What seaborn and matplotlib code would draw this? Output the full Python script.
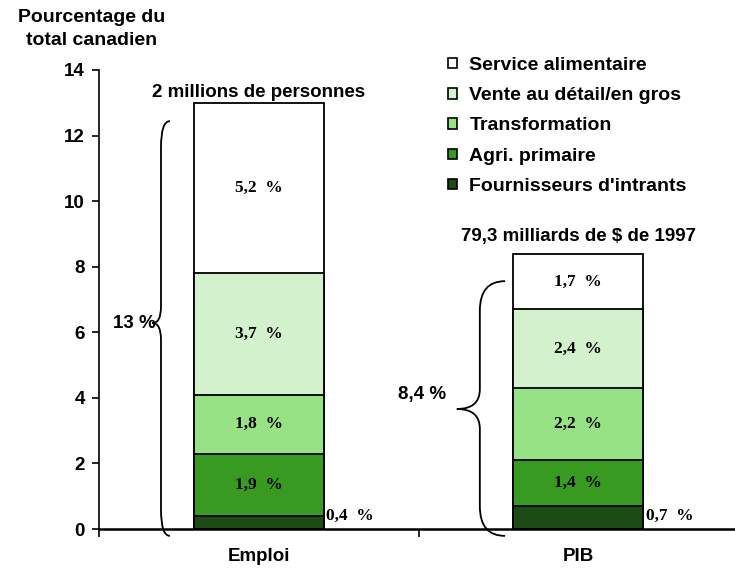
import numpy as np
import pandas as pd
import seaborn as sns
import matplotlib.pyplot as plt
from matplotlib.path import Path
from matplotlib.patches import PathPatch, Patch

categories = ["Emploi", "PIB"]
segments = ["Fournisseurs d'intrants", "Agri. primaire", "Transformation",
            "Vente au détail/en gros", "Service alimentaire"]
emploi = [0.4, 1.9, 1.8, 3.7, 5.2]
pib = [0.7, 1.4, 2.2, 2.4, 1.7]
totals = ["13 %", "8,4 %"]
bar_titles = ["2 millions de personnes", "79,3 milliards de $ de 1997"]
colors = ["#1D4B14", "#399A22", "#98E286", "#D3F1CC", "#FFFFFF"]

rows = []
for cat, vals in zip(categories, [emploi, pib]):
    for seg, v in zip(segments, vals):
        rows.append({"categorie": cat, "segment": seg, "valeur": v})
df = pd.DataFrame(rows)
df["cumul"] = df.groupby("categorie")["valeur"].cumsum()

sns.set_style("white")
plt.rcParams["font.family"] = ["Liberation Sans", "DejaVu Sans"]
plt.rcParams["font.weight"] = "bold"
for k in ["text.color", "axes.labelcolor", "xtick.color", "ytick.color", "axes.edgecolor"]:
    plt.rcParams[k] = "black"

fig = plt.figure(figsize=(7.35, 5.71), dpi=100)
ax = fig.add_axes([99 / 735, 1 - 529 / 571, 636 / 735, 459 / 571])

BAR_W = 0.407
for seg, col in reversed(list(zip(segments, colors))):
    sub = df[df["segment"] == seg]
    sns.barplot(data=sub, x="categorie", y="cumul", order=categories, color=col,
                saturation=1, width=BAR_W, edgecolor="black", linewidth=1.3,
                errorbar=None, ax=ax)

# segment labels
title_pad = [0.32, 0.52]
for i, cat in enumerate(categories):
    sub = df[df["categorie"] == cat]
    for _, r in sub.iterrows():
        txt = f"{r['valeur']:.1f}".replace(".", ",") + "  %"
        if r["valeur"] < 1:
            ax.text(i + BAR_W / 2 + 0.008, 0.4, txt, ha="left", va="center",
                    family="Liberation Serif", fontsize=12.5, fontweight="bold")
        else:
            ax.text(i, r["cumul"] - r["valeur"] / 2, txt, ha="center", va="center",
                    family="Liberation Serif", fontsize=12.5, fontweight="bold")
    ax.text(i, sub["cumul"].max() + title_pad[i], bar_titles[i], ha="center",
            va="center", fontsize=13.5, fontweight="bold")


def brace(ax, x_end, x_line, x_tip, y_bot, y_top, y_tip, r_end, r_tip):
    verts = [
        (x_end, y_top), (x_line, y_top), (x_line, y_top - r_end),
        (x_line, y_tip + r_tip), (x_line, y_tip), (x_tip, y_tip),
        (x_line, y_tip), (x_line, y_tip - r_tip),
        (x_line, y_bot + r_end), (x_line, y_bot), (x_end, y_bot),
    ]
    codes = [Path.MOVETO, Path.CURVE3, Path.CURVE3,
             Path.LINETO, Path.CURVE3, Path.CURVE3,
             Path.CURVE3, Path.CURVE3,
             Path.LINETO, Path.CURVE3, Path.CURVE3]
    ax.add_patch(PathPatch(Path(verts, codes), facecolor="none", edgecolor="black",
                           linewidth=1.3, clip_on=False))


brace(ax, -0.278, -0.306, -0.333, -0.21, 12.44, 6.28, 0.8, 0.5)
brace(ax, 0.771, 0.692, 0.620, -0.21, 7.56, 3.66, 0.9, 0.6)
ax.text(-0.322, 6.28, totals[0], ha="right", va="center", fontsize=13.5, fontweight="bold")
ax.text(0.585, 4.09, totals[1], ha="right", va="center", fontsize=13.5, fontweight="bold")

ax.set_xlim(-0.5, 1.4906)
ax.set_ylim(0, 14)
ax.set_yticks(np.arange(0, 15, 2))
ax.set_xticks([0, 1])
ax.set_xticklabels(categories)
ax.set_xticks([-0.5, 0.5], minor=True)
ax.set_xlabel("")
ax.set_ylabel("")
sns.despine(ax=ax)
ax.spines["left"].set_linewidth(1.2)
ax.spines["bottom"].set_linewidth(1.8)
ax.tick_params(axis="y", left=True, length=5, width=1.2, pad=5, labelsize=13.5)
ax.tick_params(axis="x", which="major", bottom=True, length=0, pad=14, labelsize=13.5)
ax.tick_params(axis="x", which="minor", bottom=True, length=6, width=1.2)
for lab in ax.get_xticklabels() + ax.get_yticklabels():
    lab.set_fontweight("bold")

handles = [Patch(facecolor=c, edgecolor="black", linewidth=1.2) for c in colors]
ax.legend(handles[::-1], segments[::-1], loc="upper left",
          bbox_to_anchor=(448 / 735, 1 - 57 / 571), bbox_transform=fig.transFigure,
          frameon=False, fontsize=14, handlelength=0.45, handleheight=0.45,
          handletextpad=0.65, labelspacing=0.68, borderpad=0, borderaxespad=0)

fig.text(92 / 735, 1 - 29 / 571, "Pourcentage du\ntotal canadien", ha="center",
         va="center", multialignment="center", fontsize=14, fontweight="bold",
         linespacing=1.45)

fig.savefig("out.png", dpi=100)
